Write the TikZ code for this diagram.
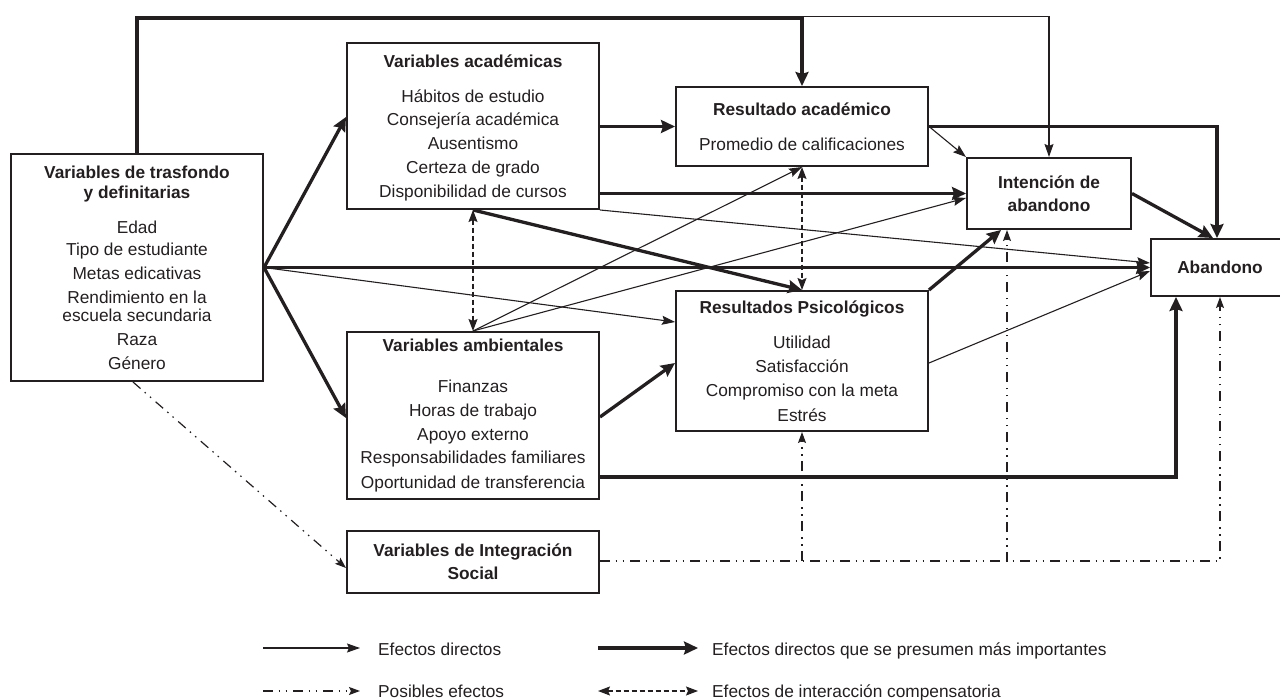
\documentclass[tikz,border=0pt]{standalone}
\usepackage{fontspec}
\setmainfont{Liberation Sans}
\usetikzlibrary{arrows.meta,calc}
\definecolor{ink}{HTML}{231F20}
\begin{document}
\begin{tikzpicture}[x=1pt,y=-1pt,
  box/.style={draw=ink,line width=2pt,rectangle,inner sep=0pt},
  txt/.style={font=\fontsize{17.3}{20}\selectfont,text=ink,inner sep=0pt,anchor=base},
  ttl/.style={font=\fontsize{17.3}{20}\selectfont\bfseries,text=ink,inner sep=0pt,anchor=base},
  conThin/.style={draw=ink,line width=1.1pt,-{Stealth[length=13pt,width=9pt,inset=2pt]}},
  conThick/.style={draw=ink,line width=3.3pt,-{Stealth[length=14pt,width=13pt,inset=2pt]}},
  conDD/.style={draw=ink,line width=1.3pt,dash pattern=on 5pt off 3pt,{Stealth[length=12pt,width=9pt,inset=2pt]}-{Stealth[length=12pt,width=9pt,inset=2pt]}},
  ddpat/.style={draw=ink,line width=1.2pt,dash pattern=on 10pt off 5.5pt on 1.5pt off 5.5pt on 1.5pt off 6pt},
  conDashdot/.style={ddpat,-{Stealth[length=11pt,width=8pt,inset=2pt]}}]
\useasboundingbox (0,0) rectangle (1280,700);

% boxes
\node[box,minimum width=252pt,minimum height=227pt] (bg) at (137,267.5) {};
\node[box,minimum width=252pt,minimum height=166pt] (ac) at (473,126) {};
\node[box,minimum width=252pt,minimum height=79pt] (ra) at (802,126.5) {};
\node[box,minimum width=164pt,minimum height=71pt] (in) at (1049,193.5) {};
\node[box,minimum width=139pt,minimum height=57pt] (ab) at (1220.5,267.5) {};
\node[box,minimum width=252pt,minimum height=140pt] (rp) at (802,361) {};
\node[box,minimum width=252pt,minimum height=167pt] (am) at (473,415.5) {};
\node[box,minimum width=252pt,minimum height=62pt] (so) at (473,562) {};

% texts
\node[ttl] (bg1) at (137,179) {Variables de trasfondo};
\node[ttl] (bg2) at (137,199) {y definitarias};
\node[txt] (bg3) at (137,234) {Edad};
\node[txt] (bg4) at (137,256) {Tipo de estudiante};
\node[txt] (bg5) at (137,280) {Metas edicativas};
\node[txt] (bg6) at (137,304) {Rendimiento en la};
\node[txt] (bg7) at (137,322) {escuela secundaria};
\node[txt] (bg8) at (137,346) {Raza};
\node[txt] (bg9) at (137,370) {Género};

\node[ttl] (ac1) at (473,68) {Variables académicas};
\node[txt] (ac2) at (473,103) {Hábitos de estudio};
\node[txt] (ac3) at (473,126) {Consejería académica};
\node[txt] (ac4) at (473,150) {Ausentismo};
\node[txt] (ac5) at (473,174) {Certeza de grado};
\node[txt] (ac6) at (473,198) {Disponibilidad de cursos};

\node[ttl] (ra1) at (802,116) {Resultado académico};
\node[txt] (ra2) at (802,151) {Promedio de calificaciones};

\node[ttl] (in1) at (1049,189) {Intención de};
\node[ttl] (in2) at (1049,212) {abandono};

\node[ttl] (ab1) at (1220,274) {Abandono};

\node[ttl] (rp1) at (802,314) {Resultados Psicológicos};
\node[txt] (rp2) at (802,349) {Utilidad};
\node[txt] (rp3) at (802,373) {Satisfacción};
\node[txt] (rp4) at (802,397) {Compromiso con la meta};
\node[txt] (rp5) at (802,421) {Estrés};

\node[ttl] (am1) at (473,352) {Variables ambientales};
\node[txt] (am2) at (473,393) {Finanzas};
\node[txt] (am3) at (473,417) {Horas de trabajo};
\node[txt] (am4) at (473,440) {Apoyo externo};
\node[txt] (am5) at (473,464) {Responsabilidades familiares};
\node[txt] (am6) at (473,488) {Oportunidad de transferencia};

\node[ttl] (so1) at (473,556) {Variables de Integración};
\node[ttl] (so2) at (473,579) {Social};

% thick connectors
\draw[conThick] (bg.north) -- (bg.north |- 0,18) -- (ra.north |- 0,18) -- (ra.north);
\draw[conThick] (bg.east) -- (ac.west |- 0,117);
\draw[conThick] (bg.east) -- (ab.west);
\draw[conThick] (bg.east) -- (am.west |- 0,418);
\draw[conThick] (ac.east |- ra.west) -- (ra.west);
\draw[conThick] (ac.east |- in.west) -- (in.west);
\draw[conThick] (ac.south) -- (rp.north);
\draw[conThick] (ra.east) -| (ab.north -| 1217,0);
\draw[conThick] (in.east) -- (ab.north -| 1213,0);
\draw[conThick] (rp.north east) -- (in.south -| 1001,0);
\draw[conThick] (am.east |- 0,417) -- (rp.west |- 0,363);
\draw[conThick] (am.east |- 0,477) -| (ab.south -| 1176,0);

% thin connectors
\draw[conThin] (ra.north |- 0,16.5) -- (in.north |- 0,16.5) -- (in.north);
\draw[conThin] (bg.east) -- (rp.west |- 0,322);
\draw[conThin] (ac.south east) -- (ab.west |- 0,263);
\draw[conThin] (ra.east) -- (in.north west);
\draw[conThin] (am.north) -- (ra.south);
\draw[conThin] (am.north) -- (in.west |- 0,198);
\draw[conThin] (rp.east |- 0,363) -- (ab.west |- 0,271);

% compensatory interaction
\draw[conDD] (ac.south) -- (am.north);
\draw[conDD] (ra.south) -- (rp.north);

% possible effects
\draw[conDashdot] (bg.south -| 133,0) -- (so.west |- 0,568);
\draw[conDashdot] (so.east |- 0,561) -| (ab.south -| 1220,0);
\draw[conDashdot] (rp.south |- 0,561) -- (rp.south);
\draw[conDashdot] (in.south -| 1007,0) ++(0,332) -- (in.south -| 1007,0);

% legend
\coordinate (l1a) at (263,648); \coordinate (l1b) at (360,648);
\coordinate (l2a) at (263,691); \coordinate (l2b) at (360,691);
\coordinate (l3a) at (598,648); \coordinate (l3b) at (698,648);
\coordinate (l4a) at (598,691); \coordinate (l4b) at (698,691);
\draw[conThin] (l1a) -- (l1b);
\draw[conDashdot] (l2a) -- (l2b);
\draw[conThick] (l3a) -- (l3b);
\draw[conDD] (l4a) -- (l4b);
\node[txt,anchor=base west] (lt1) at (378,655) {Efectos directos};
\node[txt,anchor=base west] (lt2) at (378,697) {Posibles efectos};
\node[txt,anchor=base west] (lt3) at (712,655) {Efectos directos que se presumen más importantes};
\node[txt,anchor=base west] (lt4) at (712,697) {Efectos de interacción compensatoria};
\end{tikzpicture}
\end{document}
